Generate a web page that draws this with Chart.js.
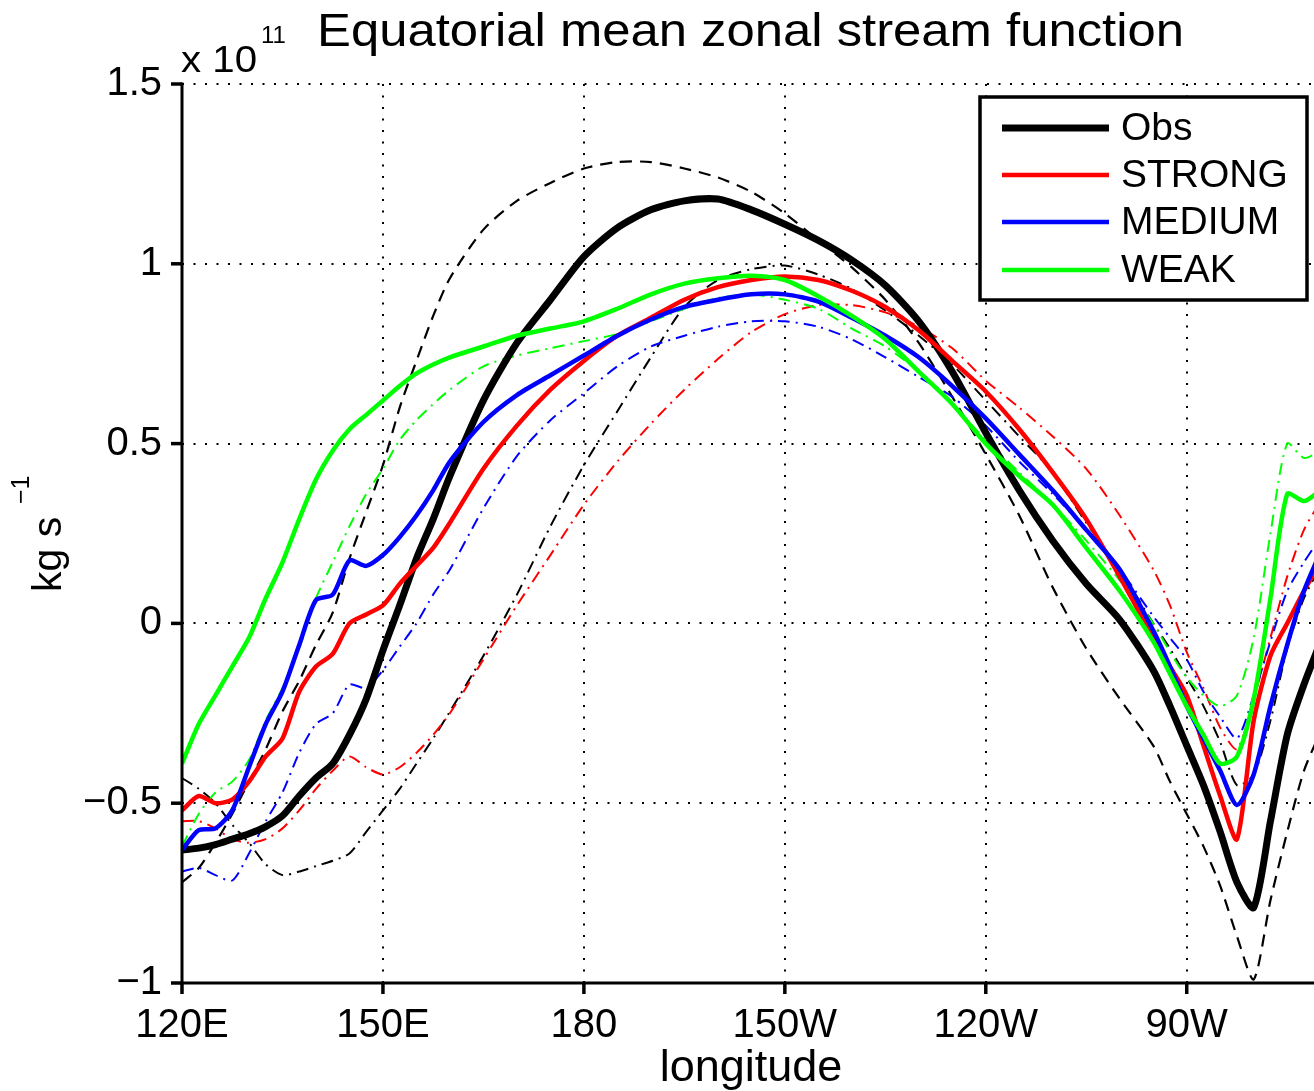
<!DOCTYPE html>
<html>
<head>
<meta charset="utf-8">
<title>Equatorial mean zonal stream function</title>
<script src="https://cdn.jsdelivr.net/npm/chart.js@4.4.1/dist/chart.umd.min.js"></script>
<style>
  html, body { margin: 0; padding: 0; background: #fff; }
  canvas { display: block; }
</style>
</head>
<body>
<canvas id="psi" width="1314" height="1091"></canvas>
<script>
// longitude (degrees east), values in units of 1e11 kg s-1
const lon = [120,122.5,125,127.5,130,132.5,135,137.5,140,142.5,145,147.5,150,152.5,155,157.5,160,
  165,170,175,180,185,190,195,200,205,210,215,220,225,230,235,240,245,250,255,260,265,
  267.5,270,272.5,275,277.5,280,282.5,285,287.5,290];

const obs = [-0.63,-0.625,-0.615,-0.60,-0.585,-0.565,-0.535,-0.48,-0.43,-0.39,-0.31,-0.21,-0.075,0.05,0.18,0.29,0.41,
  0.62,0.78,0.90,1.02,1.10,1.15,1.175,1.18,1.15,1.11,1.065,1.01,0.94,0.84,0.70,0.53,0.37,0.23,0.11,0.01,-0.13,
  -0.23,-0.34,-0.45,-0.58,-0.72,-0.79,-0.55,-0.31,-0.17,-0.05];
const obsDash = [-0.72,-0.68,-0.61,-0.53,-0.44,-0.35,-0.245,-0.16,-0.06,0.03,0.18,0.31,0.44,0.60,0.73,0.855,0.96,
  1.095,1.175,1.225,1.265,1.283,1.283,1.265,1.24,1.20,1.14,1.065,0.99,0.90,0.78,0.63,0.47,0.30,0.10,-0.07,-0.21,-0.34,
  -0.44,-0.53,-0.62,-0.73,-0.87,-0.99,-0.77,-0.58,-0.41,-0.30];
const obsDot = [-0.43,-0.46,-0.50,-0.56,-0.61,-0.67,-0.70,-0.69,-0.675,-0.66,-0.64,-0.58,-0.52,-0.46,-0.39,-0.32,-0.245,
  -0.09,0.08,0.27,0.44,0.59,0.74,0.88,0.955,0.985,0.995,0.97,0.93,0.87,0.80,0.72,0.62,0.52,0.42,0.28,0.15,0.0,
  -0.07,-0.15,-0.23,-0.33,-0.45,-0.42,-0.27,-0.07,0.07,0.16];

const strong = [-0.52,-0.48,-0.50,-0.49,-0.44,-0.37,-0.32,-0.19,-0.12,-0.085,0.0,0.025,0.05,0.11,0.16,0.21,0.28,
  0.43,0.55,0.65,0.73,0.80,0.85,0.90,0.935,0.955,0.965,0.955,0.925,0.88,0.815,0.73,0.645,0.54,0.42,0.29,0.13,-0.04,
  -0.12,-0.20,-0.34,-0.48,-0.60,-0.27,-0.09,0.0,0.09,0.17];
const strongDot = [-0.55,-0.55,-0.57,-0.60,-0.61,-0.60,-0.57,-0.52,-0.46,-0.41,-0.37,-0.40,-0.42,-0.40,-0.36,-0.31,-0.25,
  -0.10,0.05,0.19,0.33,0.45,0.555,0.65,0.735,0.81,0.86,0.885,0.885,0.865,0.825,0.765,0.675,0.60,0.52,0.43,0.30,0.15,
  0.05,-0.08,-0.18,-0.29,-0.35,-0.21,-0.04,0.13,0.26,0.34];

const medium = [-0.63,-0.575,-0.57,-0.52,-0.40,-0.28,-0.19,-0.06,0.065,0.08,0.175,0.16,0.19,0.24,0.30,0.37,0.45,
  0.56,0.635,0.69,0.745,0.80,0.845,0.88,0.90,0.915,0.915,0.895,0.85,0.80,0.74,0.66,0.57,0.47,0.37,0.26,0.15,-0.02,
  -0.12,-0.23,-0.32,-0.41,-0.505,-0.42,-0.23,-0.06,0.09,0.20];
const mediumDot = [-0.69,-0.68,-0.70,-0.715,-0.64,-0.55,-0.47,-0.36,-0.28,-0.25,-0.17,-0.18,-0.13,-0.065,0.0,0.08,0.15,
  0.32,0.465,0.565,0.64,0.715,0.77,0.80,0.825,0.84,0.84,0.825,0.79,0.74,0.685,0.63,0.55,0.45,0.36,0.26,0.15,0.02,
  -0.04,-0.10,-0.19,-0.26,-0.32,-0.20,-0.05,0.09,0.17,0.24];

const weak = [-0.39,-0.28,-0.20,-0.12,-0.04,0.07,0.17,0.29,0.40,0.48,0.54,0.58,0.62,0.66,0.695,0.72,0.74,
  0.77,0.80,0.82,0.84,0.875,0.915,0.945,0.96,0.967,0.955,0.91,0.855,0.79,0.70,0.61,0.50,0.41,0.33,0.21,0.09,-0.05,
  -0.14,-0.23,-0.31,-0.39,-0.37,-0.21,0.07,0.36,0.34,0.37];
const weakDot = [-0.62,-0.53,-0.47,-0.44,-0.38,-0.27,-0.18,-0.07,0.07,0.17,0.27,0.36,0.43,0.51,0.565,0.61,0.65,
  0.715,0.745,0.765,0.785,0.805,0.84,0.875,0.905,0.915,0.90,0.875,0.82,0.77,0.70,0.61,0.51,0.42,0.33,0.23,0.12,0.0,
  -0.08,-0.15,-0.20,-0.23,-0.20,-0.04,0.25,0.50,0.46,0.48];

const xTickVals = [120,150,180,210,240,270];
const xTickLabels = ['120E','150E','180','150W','120W','90W'];
const yTickVals = [-1,-0.5,0,0.5,1,1.5];
const yTickLabels = ['\u22121','\u22120.5','0','0.5','1','1.5'];
const legendNames = ['Obs','STRONG','MEDIUM','WEAK'];

const FONT = "'Liberation Sans', Arial, Helvetica, sans-serif";
const DASH = [12, 8];
const DASHDOT = [12, 6, 2, 6];

function pts(vals) {
  return lon.map((x, i) => ({ x: x, y: vals[i] }));
}

function line(label, vals, color, width, dash, order) {
  return {
    label: label,
    data: pts(vals),
    borderColor: color,
    backgroundColor: color,
    borderWidth: width,
    borderDash: dash,
    borderJoinStyle: 'round',
    pointRadius: 0,
    tension: 0.25,
    fill: false,
    order: order
  };
}

// draw plain text squeezed/stretched to a given width
function putText(ctx, str, x, y, size, width) {
  ctx.save();
  ctx.font = size + 'px ' + FONT;
  ctx.textAlign = 'left';
  ctx.textBaseline = 'alphabetic';
  const w = ctx.measureText(str).width;
  ctx.translate(x, y);
  if (width) ctx.scale(width / w, 1);
  ctx.fillText(str, 0, 0);
  ctx.restore();
}

const frame = {
  id: 'frame',
  beforeDatasetsDraw(chart) {
    const { ctx, chartArea: a, scales: { x, y } } = chart;
    ctx.save();
    ctx.strokeStyle = '#000';
    ctx.lineWidth = 2;
    ctx.setLineDash([2, 9.5]);
    xTickVals.forEach(v => {
      const px = Math.round(x.getPixelForValue(v));
      ctx.beginPath(); ctx.moveTo(px, a.top); ctx.lineTo(px, a.bottom); ctx.stroke();
    });
    yTickVals.forEach(v => {
      const py = Math.round(y.getPixelForValue(v));
      ctx.beginPath(); ctx.moveTo(a.left, py); ctx.lineTo(a.right, py); ctx.stroke();
    });
    ctx.restore();
  },
  afterDatasetsDraw(chart) {
    const { ctx, chartArea: a, scales: { x, y } } = chart;
    ctx.save();
    ctx.strokeStyle = '#000';
    ctx.lineWidth = 3;
    ctx.setLineDash([]);
    ctx.beginPath();
    ctx.moveTo(a.left, a.top - 1.5); ctx.lineTo(a.left, a.bottom);
    ctx.lineTo(a.right, a.bottom);
    ctx.stroke();
    ctx.lineWidth = 3.5;
    yTickVals.forEach(v => {
      const py = y.getPixelForValue(v);
      ctx.beginPath(); ctx.moveTo(a.left - 11, py); ctx.lineTo(a.left, py); ctx.stroke();
    });
    xTickVals.forEach(v => {
      const px = x.getPixelForValue(v);
      ctx.beginPath(); ctx.moveTo(px, a.bottom); ctx.lineTo(px, a.bottom + 11); ctx.stroke();
    });
    ctx.restore();
  },
  afterDraw(chart) {
    const ctx = chart.ctx;
    ctx.save();
    ctx.fillStyle = '#000';

    // title and exponent
    putText(ctx, 'Equatorial mean zonal stream function', 317, 46, 47, 867);
    putText(ctx, 'x 10', 181, 72, 36, 76);
    putText(ctx, '11', 261, 43, 24);

    // axis titles
    ctx.save();
    ctx.translate(61, 592);
    ctx.rotate(-Math.PI / 2);
    putText(ctx, 'kg s', 0, 0, 41);
    putText(ctx, '\u22121', 88, -32, 25);
    ctx.restore();
    ctx.font = '45px ' + FONT;
    ctx.textAlign = 'center';
    ctx.textBaseline = 'alphabetic';
    ctx.fillText('longitude', 751, 1081);

    // legend for the solid runs
    const bx = 980, by = 97, bw = 327, bh = 203;
    ctx.fillStyle = '#fff';
    ctx.fillRect(bx, by, bw, bh);
    ctx.strokeStyle = '#000';
    ctx.lineWidth = 3.5;
    ctx.strokeRect(bx, by, bw, bh);
    const rows = [128, 175, 222, 270];
    legendNames.forEach((name, i) => {
      const ds = chart.data.datasets[i];
      ctx.strokeStyle = ds.borderColor;
      ctx.lineWidth = ds.borderWidth;
      ctx.setLineDash([]);
      ctx.beginPath(); ctx.moveTo(1002, rows[i]); ctx.lineTo(1109, rows[i]); ctx.stroke();
      ctx.fillStyle = '#000';
      ctx.font = '39px ' + FONT;
      ctx.textAlign = 'left';
      ctx.fillText(name, 1121, rows[i] + 12);
    });
    ctx.restore();
  }
};

new Chart(document.getElementById('psi'), {
  type: 'line',
  data: {
    datasets: [
      line('Obs', obs, '#000000', 7, [], 4),
      line('STRONG', strong, '#ff0000', 4.5, [], 3),
      line('MEDIUM', medium, '#0000ff', 4.5, [], 2),
      line('WEAK', weak, '#00ff00', 4.5, [], 1),
      line('Obs dashed', obsDash, '#000000', 2.2, DASH, 9),
      line('Obs dash-dot', obsDot, '#000000', 2, DASHDOT, 8),
      line('STRONG dash-dot', strongDot, '#ff0000', 2, DASHDOT, 7),
      line('MEDIUM dash-dot', mediumDot, '#0000ff', 2, DASHDOT, 6),
      line('WEAK dash-dot', weakDot, '#00ff00', 2, DASHDOT, 5)
    ]
  },
  options: {
    responsive: false,
    animation: false,
    devicePixelRatio: 1,
    layout: { padding: { top: 84, right: 0, bottom: 0, left: 0 } },
    plugins: { legend: { display: false }, tooltip: { enabled: false }, title: { display: false } },
    scales: {
      x: {
        type: 'linear',
        min: 120,
        max: 289,
        afterFit: s => { s.height = 108; },
        afterBuildTicks: s => { s.ticks = xTickVals.map(v => ({ value: v })); },
        grid: { display: false, drawTicks: false },
        border: { display: false },
        ticks: {
          autoSkip: false, maxRotation: 0, minRotation: 0, padding: 19, color: '#000',
          font: { family: FONT, size: 40 },
          callback: v => xTickLabels[xTickVals.indexOf(v)]
        }
      },
      y: {
        type: 'linear',
        min: -1,
        max: 1.5,
        afterFit: s => { s.width = 182; },
        afterBuildTicks: s => { s.ticks = yTickVals.map(v => ({ value: v })); },
        grid: { display: false, drawTicks: false },
        border: { display: false },
        ticks: {
          autoSkip: false, padding: 20, color: '#000',
          font: { family: FONT, size: 40 },
          callback: v => yTickLabels[yTickVals.indexOf(v)]
        }
      }
    }
  },
  plugins: [frame]
});
</script>
</body>
</html>
